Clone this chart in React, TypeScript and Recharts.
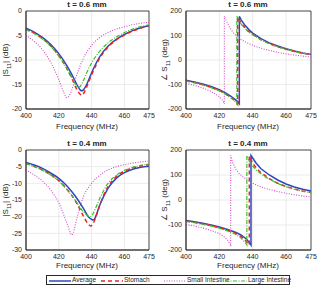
import React from "react";
import {
  LineChart,
  Line,
  XAxis,
  YAxis,
  CartesianGrid,
  ReferenceArea,
} from "recharts";

type Pt = [number, number];

const FREQ_TICKS = [400, 420, 440, 460, 475];
const PHASE_TICKS = [-200, -100, 0, 100, 200];
const MAG06_TICKS = [-20, -15, -10, -5, 0];
const MAG04_TICKS = [-30, -25, -20, -15, -10, -5, 0];

// |S11| (dB), t = 0.6 mm
const mag06Average: Pt[] = [[400, -3.5], [405, -4.3], [410, -5.4], [415, -6.8], [420, -8.7], [425, -11.2], [428, -13.0], [431, -15.0], [433, -16.1], [434, -16.3], [435, -16.1], [437, -15.0], [440, -12.6], [445, -9.3], [450, -7.2], [455, -5.8], [460, -4.8], [465, -4.0], [470, -3.4], [475, -3.0]];
const mag06Stomach: Pt[] = [[400, -3.7], [405, -4.5], [410, -5.6], [415, -7.1], [420, -9.1], [425, -11.8], [428, -13.8], [431, -16.0], [433, -17.0], [434, -17.2], [435, -16.9], [437, -15.5], [440, -13.0], [445, -9.6], [450, -7.4], [455, -5.9], [460, -4.9], [465, -4.1], [470, -3.5], [475, -3.0]];
const mag06Small: Pt[] = [[400, -5.0], [405, -6.2], [410, -7.9], [415, -10.4], [420, -14.0], [423, -16.6], [425, -17.7], [427, -16.9], [430, -14.0], [433, -11.2], [436, -9.0], [440, -7.0], [445, -5.4], [450, -4.4], [455, -3.7], [460, -3.2], [465, -2.8], [470, -2.5], [475, -2.3]];
const mag06Large: Pt[] = [[400, -3.8], [405, -4.6], [410, -5.7], [415, -7.2], [420, -9.2], [425, -11.8], [428, -13.6], [430, -14.9], [432, -15.6], [433, -15.4], [435, -14.2], [437, -12.6], [440, -10.6], [445, -8.2], [450, -6.5], [455, -5.3], [460, -4.4], [465, -3.7], [470, -3.2], [475, -2.8]];

// phase S11 (deg), t = 0.6 mm
const ph06Average: Pt[] = [[400, -83], [405, -90], [410, -98], [415, -108], [420, -121], [424, -135], [427, -148], [429, -158], [431, -170], [432, -178], [432, 178], [433, 165], [435, 145], [438, 122], [440, 110], [445, 87], [450, 70], [455, 57], [460, 46], [465, 37], [470, 29], [475, 23]];
const ph06Stomach: Pt[] = [[400, -85], [405, -92], [410, -100], [415, -111], [420, -124], [424, -139], [427, -152], [429, -163], [430.5, -175], [431, -180], [431, 175], [432, 163], [434, 142], [437, 120], [440, 105], [445, 83], [450, 67], [455, 54], [460, 44], [465, 35], [470, 28], [475, 22]];
const ph06Small: Pt[] = [[400, -95], [405, -103], [410, -114], [415, -128], [418, -140], [420, -150], [422, -165], [423, -180], [423, 180], [424, 162], [426, 135], [428, 115], [430, 100], [433, 84], [436, 72], [440, 60], [445, 48], [450, 39], [455, 31], [460, 25], [465, 20], [470, 16], [475, 12]];
const ph06Large: Pt[] = [[400, -86], [405, -93], [410, -102], [415, -113], [420, -126], [424, -141], [427, -155], [429, -166], [430.5, -180], [430.5, 178], [432, 158], [434, 138], [437, 118], [440, 103], [445, 82], [450, 66], [455, 54], [460, 44], [465, 35], [470, 28], [475, 22]];

// |S11| (dB), t = 0.4 mm
const mag04Average: Pt[] = [[400, -3.7], [405, -4.5], [410, -5.5], [415, -6.9], [420, -8.5], [425, -10.8], [430, -13.8], [435, -17.5], [438, -20.0], [440, -20.8], [441, -21.0], [442, -20.5], [445, -16.5], [450, -11.5], [455, -8.5], [460, -6.8], [465, -5.8], [470, -5.2], [475, -4.9]];
const mag04Stomach: Pt[] = [[400, -4.0], [405, -4.9], [410, -6.0], [415, -7.4], [420, -9.2], [425, -11.8], [430, -15.2], [435, -19.8], [438, -22.3], [439.5, -22.8], [441, -22.0], [443, -19.5], [445, -16.5], [450, -11.0], [455, -8.0], [460, -6.4], [465, -5.4], [470, -4.8], [475, -4.4]];
const mag04Small: Pt[] = [[400, -6.0], [405, -7.5], [410, -9.3], [415, -12.0], [420, -15.8], [425, -22.0], [428, -25.5], [431, -20.5], [435, -14.0], [440, -10.0], [445, -7.6], [450, -6.0], [455, -5.0], [460, -4.4], [465, -3.9], [470, -3.6], [475, -3.3]];
const mag04Large: Pt[] = [[400, -4.1], [405, -5.0], [410, -6.1], [415, -7.5], [420, -9.3], [425, -11.9], [430, -15.0], [435, -18.6], [438, -19.8], [439.5, -20.0], [441, -19.0], [443, -16.8], [445, -14.5], [450, -10.0], [455, -7.6], [460, -6.1], [465, -5.2], [470, -4.6], [475, -4.2]];

// phase S11 (deg), t = 0.4 mm
const ph04Average: Pt[] = [[400, -82], [405, -87], [410, -93], [415, -100], [420, -108], [425, -118], [430, -130], [433, -140], [436, -155], [438, -170], [439, -180], [439, 178], [440, 168], [442, 148], [445, 125], [450, 100], [455, 80], [460, 64], [465, 52], [470, 43], [475, 36]];
const ph04Stomach: Pt[] = [[400, -84], [405, -89], [410, -95], [415, -102], [420, -111], [425, -121], [430, -134], [433, -146], [435.5, -160], [437.5, -178], [438, -180], [438, 176], [439, 160], [441, 138], [444, 115], [450, 85], [455, 67], [460, 54], [465, 44], [470, 36], [475, 30]];
const ph04Small: Pt[] = [[400, -98], [405, -104], [410, -112], [415, -122], [420, -134], [423, -148], [425, -161], [426.8, -180], [426.8, 178], [428, 150], [430, 122], [432, 105], [435, 88], [440, 67], [445, 52], [450, 42], [455, 34], [460, 27], [465, 21], [470, 16], [475, 12]];
const ph04Large: Pt[] = [[400, -86], [405, -91], [410, -97], [415, -104], [420, -113], [425, -124], [430, -138], [433, -152], [435, -166], [436.5, -180], [436.5, 177], [438, 155], [440, 136], [443, 115], [447, 95], [450, 83], [455, 66], [460, 53], [465, 43], [470, 35], [475, 29]];

const FONT = "'Liberation Sans', Arial, sans-serif";
const BLUE = "#2b48c0";
const RED = "#e8261e";
const MAGENTA = "#d24bc8";
const GREEN = "#3cbd2a";

const SERIES_STYLE = [
  { name: "Average", color: BLUE, dash: undefined, width: 1.5 },
  { name: "Stomach", color: RED, dash: "4 3", width: 1.5 },
  { name: "Small Intestine", color: MAGENTA, dash: "1 1.5", width: 1.1 },
  { name: "Large Intestine", color: GREEN, dash: "4 1.5 1 1.5", width: 1.2 },
];

const toRows = (pts: Pt[]) => pts.map(([f, v]) => ({ f, v }));

const AXIS_TICK = { fill: "#262626", fontSize: 7, fontFamily: FONT };

interface PanelProps {
  left: number;
  top: number;
  width: number;
  height: number;
  marginRight: number;
  domain: [number, number];
  yTicks: number[];
  series: Pt[][];
  curve: "monotone" | "linear";
}

function Panel({ left, top, width, height, marginRight, domain, yTicks, series, curve }: PanelProps) {
  return (
    <div style={{ position: "absolute", left, top }}>
      <LineChart
        width={width}
        height={height}
        margin={{ top: 11, right: marginRight, left: 0, bottom: 0 }}
      >
        <CartesianGrid stroke="#e6e6e6" strokeWidth={0.8} />
        <XAxis
          dataKey="f"
          type="number"
          domain={[400, 475]}
          ticks={FREQ_TICKS}
          allowDuplicatedCategory
          height={26}
          tick={AXIS_TICK}
          tickLine={false}
          tickSize={2}
          tickMargin={2}
          axisLine={{ stroke: "#262626", strokeWidth: 0.8 }}
          interval={0}
        />
        <YAxis
          type="number"
          domain={domain}
          ticks={yTicks}
          width={26}
          tick={AXIS_TICK}
          tickLine={false}
          tickSize={2}
          tickMargin={2}
          axisLine={{ stroke: "#262626", strokeWidth: 0.8 }}
          interval={0}
          allowDataOverflow
        />
        <ReferenceArea
          x1={400}
          x2={475}
          y1={domain[0]}
          y2={domain[1]}
          fill="none"
          fillOpacity={0}
          stroke="#262626"
          strokeWidth={0.8}
        />
        {series.map((pts, i) => (
          <Line
            key={SERIES_STYLE[i].name}
            data={toRows(pts)}
            dataKey="v"
            type={curve}
            stroke={SERIES_STYLE[i].color}
            strokeWidth={SERIES_STYLE[i].width}
            strokeDasharray={SERIES_STYLE[i].dash}
            dot={false}
            isAnimationActive={false}
          />
        ))}
      </LineChart>
    </div>
  );
}

const textBase: React.CSSProperties = {
  position: "absolute",
  fontFamily: FONT,
  color: "#262626",
  whiteSpace: "nowrap",
  lineHeight: 1,
};

function Title({ x, y, text }: { x: number; y: number; text: string }) {
  return (
    <div style={{ ...textBase, left: x, top: y, fontSize: 8, fontWeight: "bold", transform: "translateX(-50%)" }}>
      {text}
    </div>
  );
}

function XLabel({ x, y }: { x: number; y: number }) {
  return (
    <div style={{ ...textBase, left: x, top: y, fontSize: 8, transform: "translateX(-50%)" }}>
      Frequency (MHz)
    </div>
  );
}

function YLabel({ x, y, children }: { x: number; y: number; children: React.ReactNode }) {
  return (
    <div style={{ ...textBase, left: x, top: y, fontSize: 8, transform: "translate(-50%, -50%) rotate(-90deg)" }}>
      {children}
    </div>
  );
}

const magLabel = (
  <span>
    |S<sub style={{ fontSize: 6 }}>11</sub>| (dB)
  </span>
);
const phaseLabel = (
  <span>
    ∠ S<sub style={{ fontSize: 6 }}>11</sub> (deg)
  </span>
);

function LegendBox() {
  return (
    <div
      style={{
        ...textBase,
        left: 46,
        top: 275,
        width: 244,
        height: 10,
        border: "0.8px solid #262626",
        background: "#fff",
        fontSize: 6.5,
        boxSizing: "border-box",
      }}
    >
      {SERIES_STYLE.map((s, i) => {
        const starts = [2, 54, 117, 178];
        return (
          <div key={s.name} style={{ position: "absolute", left: starts[i], top: 1, display: "flex", alignItems: "center", height: 7 }}>
            <svg width={22} height={4} style={{ marginRight: 1 }}>
              <line x1={0} y1={2} x2={22} y2={2} stroke={s.color} strokeWidth={s.width} strokeDasharray={s.dash} />
            </svg>
            <span>{s.name}</span>
          </div>
        );
      })}
    </div>
  );
}

export default function App() {
  return (
    <div style={{ position: "absolute", left: 0, top: 0, width: 318, height: 286, background: "#fff", overflow: "hidden" }}>
      <Panel left={0} top={0} width={160} height={135} marginRight={11} domain={[-20, 0]} yTicks={MAG06_TICKS}
        series={[mag06Average, mag06Stomach, mag06Small, mag06Large]} curve="monotone" />
      <Panel left={160} top={0} width={158} height={135} marginRight={7} domain={[-200, 200]} yTicks={PHASE_TICKS}
        series={[ph06Average, ph06Stomach, ph06Small, ph06Large]} curve="linear" />
      <Panel left={0} top={139} width={160} height={137} marginRight={11} domain={[-30, 0]} yTicks={MAG04_TICKS}
        series={[mag04Average, mag04Stomach, mag04Small, mag04Large]} curve="monotone" />
      <Panel left={160} top={139} width={158} height={137} marginRight={7} domain={[-200, 200]} yTicks={PHASE_TICKS}
        series={[ph04Average, ph04Stomach, ph04Small, ph04Large]} curve="linear" />

      <Title x={87} y={1} text="t = 0.6 mm" />
      <Title x={248} y={1} text="t = 0.6 mm" />
      <Title x={87} y={140} text="t = 0.4 mm" />
      <Title x={248} y={140} text="t = 0.4 mm" />

      <XLabel x={87} y={123} />
      <XLabel x={248} y={123} />
      <XLabel x={87} y={262} />
      <XLabel x={248} y={262} />

      <YLabel x={7} y={60}>{magLabel}</YLabel>
      <YLabel x={166} y={60}>{phaseLabel}</YLabel>
      <YLabel x={7} y={200}>{magLabel}</YLabel>
      <YLabel x={166} y={200}>{phaseLabel}</YLabel>

      <LegendBox />
    </div>
  );
}
